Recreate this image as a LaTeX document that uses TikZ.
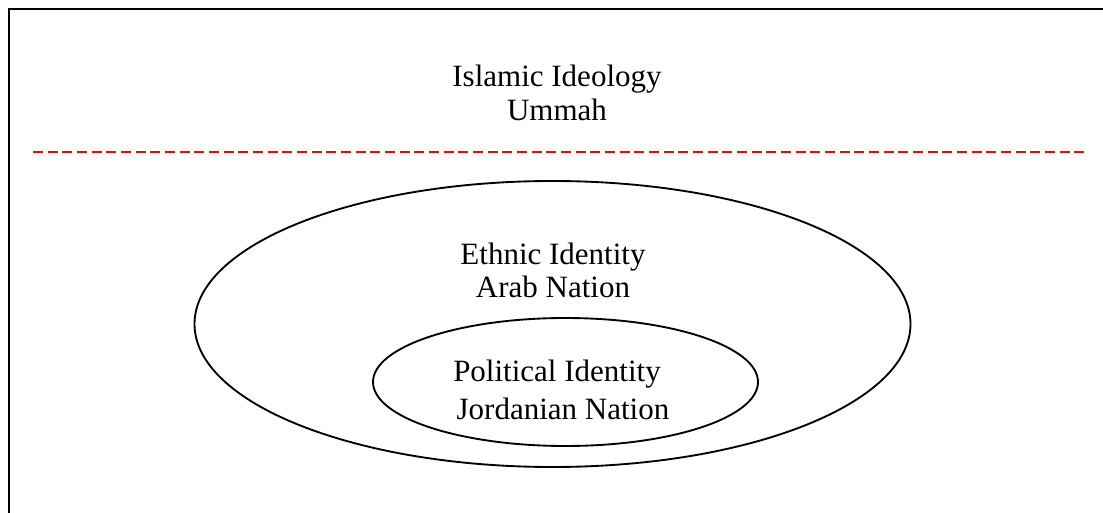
\documentclass[tikz,border=0pt]{standalone}
\usepackage{fontspec}
\setmainfont{Liberation Serif}
\begin{document}
\begin{tikzpicture}[x=0.75pt,y=-0.75pt,
  lbl/.style={anchor=base,inner sep=0pt,font=\fontsize{23.25}{25}\selectfont},
  ring/.style={draw=black,line width=1.5pt,ellipse},
  frame/.style={draw=black,line width=1.7pt}]
\useasboundingbox (0,0) rectangle (1103,513);
% frame (top and left only)
\coordinate (tl) at (9,9);
\coordinate (tr) at (1103,9);
\coordinate (bl) at (9,513);
\draw[frame] (bl) -- (tl) -- (tr);
% dashed separator
\coordinate (dl) at (33,152);
\coordinate (dr) at (1086,152);
\draw[red,line width=1.6pt,dash pattern=on 7.5pt off 3.5pt] (dl) -- (dr);
% ellipses
\draw[line width=1.4pt] (552.5,324) ellipse [x radius=358, y radius=143];
\draw[line width=1.4pt] (565.5,382) ellipse [x radius=192.5, y radius=64];
% texts
\node[lbl] (t1) at (557,87) {Islamic Ideology};
\node[lbl] (t2) at (557,121) {Ummah};
\node[lbl] (t3) at (553,265) {Ethnic Identity};
\node[lbl] (t4) at (553,297) {Arab Nation};
\node[lbl] (t5) at (557,381) {Political Identity};
\node[lbl] (t6) at (563,419) {Jordanian Nation};
\end{tikzpicture}
\end{document}
